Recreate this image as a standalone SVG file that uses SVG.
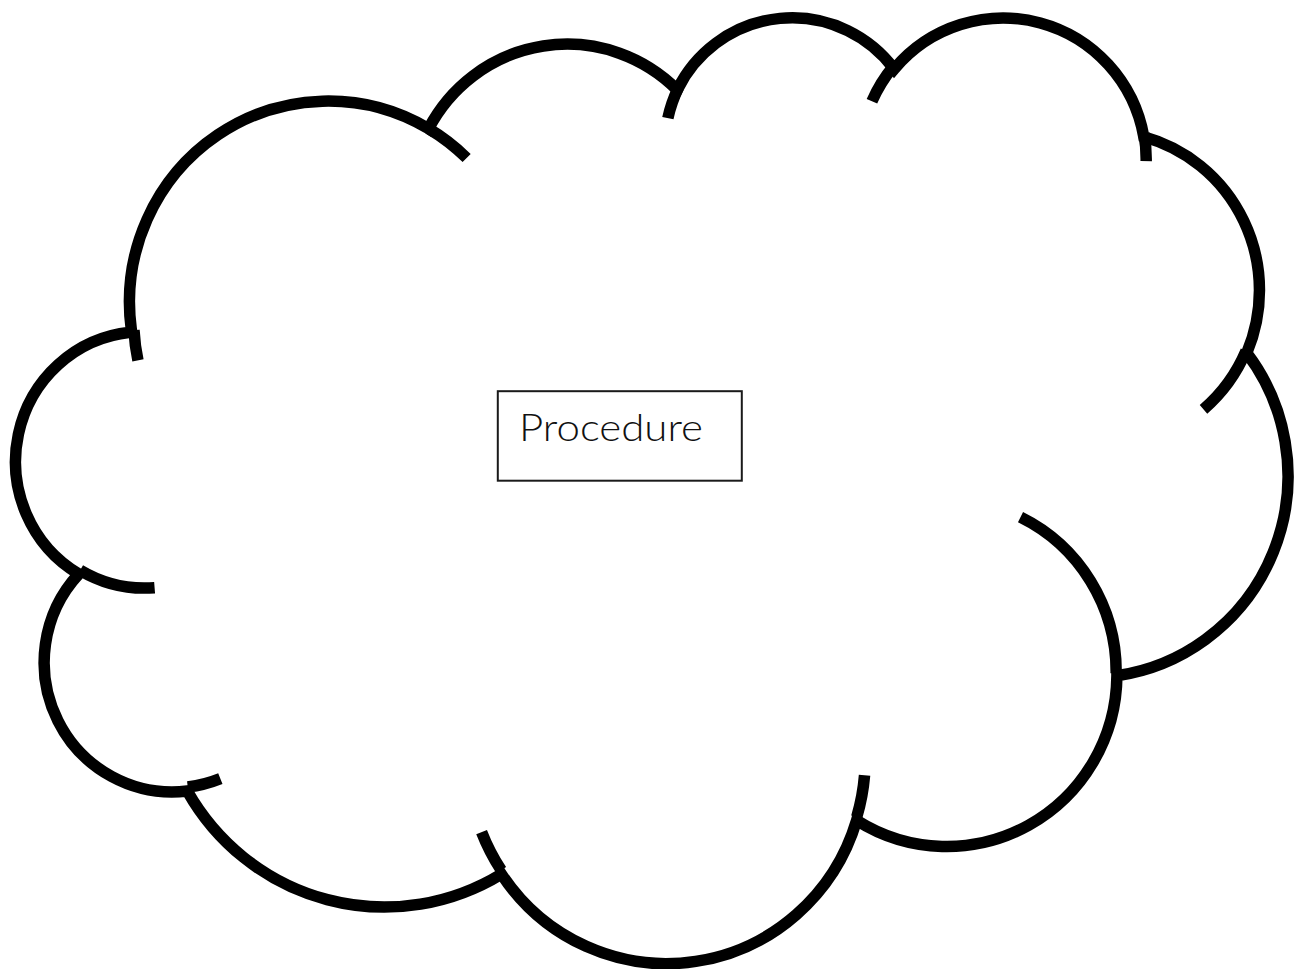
<svg xmlns="http://www.w3.org/2000/svg" width="1305" height="969" viewBox="0 0 1305 969">
  <style>
    .cloud { fill: #ffffff; stroke: #000000; stroke-width: 11.5; stroke-linejoin: miter; stroke-linecap: butt; }
    .inner { fill: none; stroke: #000000; stroke-width: 11.5; stroke-linecap: butt; }
    .box { fill: #ffffff; stroke: #1a1a1a; stroke-width: 2; }
    .label { font-family: "Lato", "Liberation Sans", sans-serif; font-size: 38px; font-weight: 300; fill: #111111; }
  </style>
  <rect x="0" y="0" width="1305" height="969" fill="#ffffff"/>
  <g id="cloud">
    <path class="cloud" d="M131.28,329.29 A198.65,201.12 0 0 1 428.56,128.66 A156.88,159.04 0 0 1 677.21,89.87 A128.41,130.11 0 0 1 894.22,69.01 A142.88,144.33 0 0 1 1143.81,136.77 A156.88,159.17 0 0 1 1246.77,353.07 A199.30,201.78 0 0 1 1116.91,675.72 A170.18,172.17 0 0 1 856.62,820.38 A198.62,201.67 0 0 1 501.42,874.07 A227.10,230.73 0 0 1 187.35,791.07 A128.26,129.52 0 0 1 78.73,573.97 A127.82,130.11 0 0 1 130.20,332.27 Z"/>
    <path class="inner" d="M154.60,587.68 A127.82,130.11 0 0 1 80.09,570.24
      M220.35,778.56 A128.26,129.52 0 0 1 187.73,786.92
      M501.28,870.28 A198.62,201.67 0 0 1 481.61,832.15
      M864.55,775.33 A198.62,201.67 0 0 1 856.71,817.10
      M1020.52,517.15 A170.18,172.17 0 0 1 1116.17,673.31
      M1246.12,350.82 A156.88,159.17 0 0 1 1203.50,409.40
      M1143.93,133.55 A142.88,144.33 0 0 1 1146.18,161.20
      M871.94,101.29 A142.88,144.33 0 0 1 893.78,65.99
      M667.87,118.10 A128.41,130.11 0 0 1 678.42,87.70
      M428.39,128.43 A198.65,201.12 0 0 1 466.65,157.97
      M137.95,360.34 A198.65,201.12 0 0 1 133.96,330.00"/>
  </g>
  <g id="procedure">
    <rect class="box" x="497.8" y="391.2" width="244" height="89.5"/>
    <text class="label" x="519" y="441" textLength="184" lengthAdjust="spacingAndGlyphs">Procedure</text>
  </g>
  <g id="connectors"/>
</svg>
